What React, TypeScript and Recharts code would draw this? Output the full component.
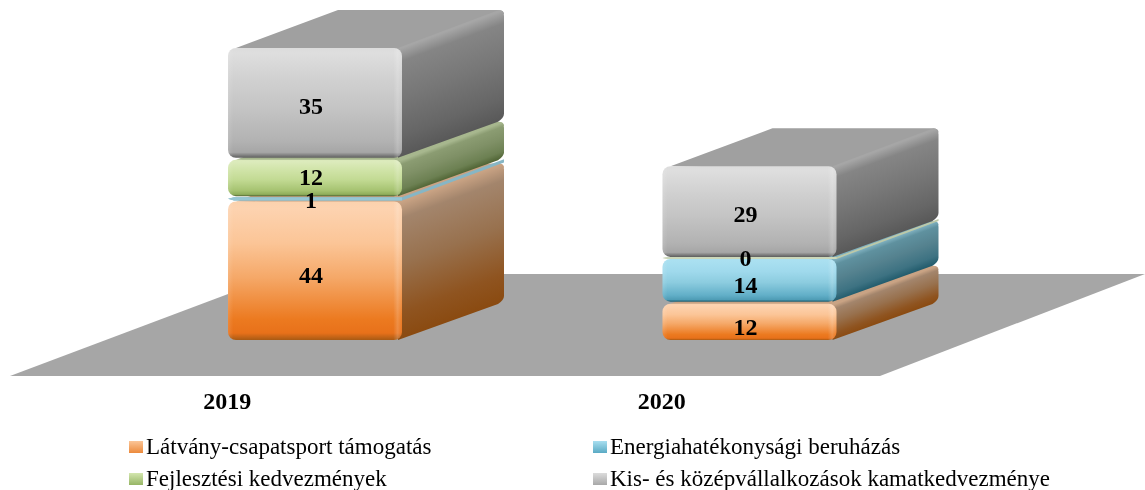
import { Bar, BarChart, LabelList, Legend, XAxis, YAxis } from "recharts";

const years = ["2019", "2020"];
const latvany = [44, 12];
const energia = [1, 14];
const fejlesztes = [12, 0];
const kamat = [35, 29];

const data = years.map((year, i) => ({
  year,
  latvany: latvany[i],
  energia: energia[i],
  fejlesztes: fejlesztes[i],
  kamat: kamat[i],
}));

const FONT = '"Liberation Serif", "Times New Roman", serif';
const DEPTH_X = 102;
const DEPTH_Y = 38;

const palettes: Record<string, any> = {
  latvany: {
    front: ["#fbd2ae", "#fdd3b0", "#fbc597", "#f5a868", "#ec7a20", "#e8711a", "#a85a14"],
    side: ["#c9a384", "#a3856c", "#98714e", "#8f5420", "#8a4a10"],
    sliver: ["#f5c6a0", "#c9a384"],
    top: "#c9a384",
    swatch: ["#fbc597", "#ec8a3c"],
    nudge: [1, 2],
  },
  energia: {
    front: ["#a9dff0", "#aae0f1", "#9fd9ec", "#8cccdf", "#62afc8", "#4f9db6", "#1e5f73"],
    side: ["#7fb0bf", "#5f919f", "#55828f", "#3d7282", "#205a6b"],
    sliver: ["#96c6d4", "#86b6c5"],
    top: "#7fb0bf",
    swatch: ["#a9dff0", "#5aaac4"],
    nudge: [-2, 2],
  },
  fejlesztes: {
    front: ["#dbe9ba", "#dcebbc", "#cfe3a6", "#c2da93", "#a5c270", "#8fae5c", "#4e6232"],
    side: ["#a7b78e", "#8b9c72", "#7f9066", "#6c8052", "#4e6232"],
    sliver: ["#ccd8ba", "#bdc9a8"],
    top: "#a7b78e",
    swatch: ["#d3e6ae", "#96b565"],
    nudge: [-4, -3],
  },
  kamat: {
    front: ["#dcdcdc", "#dedede", "#d0d0d0", "#c4c4c4", "#b2b2b2", "#a6a6a6", "#5e5e5e"],
    side: ["#a6a6a6", "#858585", "#777777", "#666666", "#585858"],
    sliver: ["#cccccc", "#999999"],
    top: "#a0a0a0",
    swatch: ["#dcdcdc", "#a8a8a8"],
    nudge: [0, -1],
  },
};

const frontStops = [0, 0.05, 0.3, 0.55, 0.85, 0.95, 1];

function Block(props: any) {
  const { x, y, width, height, index, seriesKey } = props;
  const colors = palettes[seriesKey];
  const id = `${seriesKey}-${index}`;

  if (height < 6) {
    const h = Math.max(height, 2);
    const y0 = y - (h - height) / 2;
    return (
      <g>
        <path
          d={`M${x} ${y0 + h / 2} L${x + 6} ${y0} H${x + width} L${x + width + DEPTH_X} ${y0 - DEPTH_Y} V${y0 - DEPTH_Y + h} L${x + width} ${y0 + h} H${x + 6} Z`}
          fill={colors.sliver[1]}
        />
        <path d={`M${x} ${y0 + h / 2} L${x + 6} ${y0} H${x + width} V${y0 + h} H${x + 6} Z`} fill={colors.sliver[0]} />
      </g>
    );
  }

  const gap = 1;
  const y0 = y + gap;
  const h = height - 2 * gap;
  const right = x + width;
  const r = 8;
  const backX = right + DEPTH_X;
  const len2 = DEPTH_X * DEPTH_X + DEPTH_Y * DEPTH_Y;
  const k = (h * DEPTH_X) / len2;

  return (
    <g>
      <defs>
        <linearGradient
          id={`side-${id}`}
          gradientUnits="userSpaceOnUse"
          x1={right}
          y1={y0}
          x2={right + DEPTH_Y * k}
          y2={y0 + DEPTH_X * k}
        >
          {colors.side.map((c: string, i: number) => (
            <stop key={i} offset={[0, 0.12, 0.45, 0.8, 1][i]} stopColor={c} />
          ))}
        </linearGradient>
      </defs>
      <path
        d={`M${x + r} ${y0} L${x + 110} ${y0 - DEPTH_Y} H${backX - 6} Q${backX} ${y0 - DEPTH_Y} ${backX} ${y0 - DEPTH_Y + 4} L${right} ${y0 + 4} Z`}
        fill={colors.top}
      />
      <path
        d={`M${right - 4} ${y0} L${backX - 5} ${y0 - DEPTH_Y} Q${backX} ${y0 - DEPTH_Y} ${backX} ${y0 - DEPTH_Y + 6} V${y0 + h - DEPTH_Y - 6} Q${backX} ${y0 + h - DEPTH_Y - 2} ${backX - 6} ${y0 + h - DEPTH_Y + 2} L${right - 4} ${y0 + h} Z`}
        fill={`url(#side-${id})`}
      />
      <rect x={x} y={y0} width={width} height={h} rx={r} ry={r} fill={`url(#front-${seriesKey})`} />
      <rect x={x} y={y0} width={width} height={h} rx={r} ry={r} fill="url(#bevel)" />
    </g>
  );
}

function makeLabel(seriesKey: string) {
  return function renderLabel(props: any) {
    const { x, y, width, height, value, index } = props;
    return (
      <text
        x={x + width / 2 - 4}
        y={y + height / 2 + 3 + palettes[seriesKey].nudge[index]}
        textAnchor="middle"
        dominantBaseline="central"
        fontFamily={FONT}
        fontWeight="bold"
        fontSize={24}
        fill="#000"
      >
        {value}
      </text>
    );
  };
}

function renderTick(props: any) {
  const { x, payload } = props;
  return (
    <text x={x - 88} y={401} textAnchor="middle" dominantBaseline="central" fontFamily={FONT} fontWeight="bold" fontSize={24} fill="#000">
      {payload.value}
    </text>
  );
}

function renderLegend(props: any) {
  const items = props.payload || [];
  return (
    <div
      style={{
        display: "grid",
        gridTemplateColumns: "464px 500px",
        gridAutoRows: "32px",
        marginLeft: 129,
        fontFamily: FONT,
        fontSize: 23,
        color: "#000",
      }}
    >
      {items.map((item: any) => (
        <div key={item.dataKey} style={{ display: "flex", alignItems: "center", whiteSpace: "nowrap" }}>
          <span
            style={{
              width: 14,
              height: 12,
              marginRight: 3,
              background: `linear-gradient(${palettes[item.dataKey].swatch[0]}, ${palettes[item.dataKey].swatch[1]})`,
            }}
          />
          {item.value}
        </div>
      ))}
    </div>
  );
}

export default function App() {
  const series = [
    { key: "latvany", name: "Látvány-csapatsport támogatás" },
    { key: "energia", name: "Energiahatékonysági beruházás" },
    { key: "fejlesztes", name: "Fejlesztési kedvezmények" },
    { key: "kamat", name: "Kis- és középvállalkozások kamatkedvezménye" },
  ];
  return (
    <div style={{ position: "absolute", left: 0, top: 0, width: 1145, height: 490, filter: "blur(0.4px)" }}>
      <BarChart width={1145} height={490} data={data} margin={{ top: 47, right: 178, bottom: 0, left: 98 }}>
        <defs>
          {series.map((s) => (
            <linearGradient key={s.key} id={`front-${s.key}`} x1="0" y1="0" x2="0" y2="1">
              {palettes[s.key].front.map((c: string, i: number) => (
                <stop key={i} offset={frontStops[i]} stopColor={c} />
              ))}
            </linearGradient>
          ))}
          <linearGradient id="bevel" x1="0" y1="0" x2="1" y2="0">
            <stop offset="0" stopColor="#fff" stopOpacity="0.12" />
            <stop offset="0.03" stopColor="#fff" stopOpacity="0" />
            <stop offset="0.95" stopColor="#fff" stopOpacity="0" />
            <stop offset="0.975" stopColor="#fff" stopOpacity="0.18" />
            <stop offset="1" stopColor="#fff" stopOpacity="0.02" />
          </linearGradient>
        </defs>
        <polygon points="10,376 880,376 1145,274 281,274" fill="#a6a6a6" />
        <XAxis dataKey="year" axisLine={false} tickLine={false} height={149} tick={renderTick} interval={0} />
        <YAxis hide domain={[0, 92]} />
        <Legend
          content={renderLegend}
          itemSorter={null}
          layout="horizontal"
          verticalAlign="middle"
          wrapperStyle={{ position: "absolute", left: 0, top: 431, width: 1145, height: 59, bottom: "auto" }}
        />
        {series.map((s) => (
          <Bar
            key={s.key}
            dataKey={s.key}
            name={s.name}
            stackId="a"
            barSize={174}
            fill={palettes[s.key].swatch[1]}
            isAnimationActive={false}
            shape={(p: any) => <Block {...p} seriesKey={s.key} />}
          >
            <LabelList dataKey={s.key} content={makeLabel(s.key)} />
          </Bar>
        ))}
      </BarChart>
    </div>
  );
}
